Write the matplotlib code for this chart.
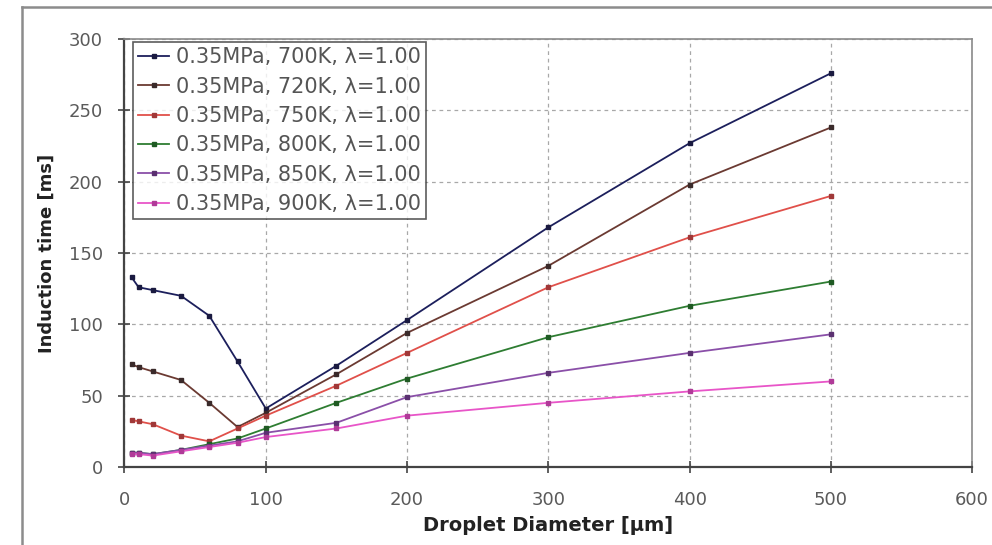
import matplotlib
matplotlib.use("Agg")
import matplotlib.pyplot as plt
from matplotlib.lines import Line2D

plt.rcParams["font.family"] = ["DejaVu Sans"]

# droplet diameter [um]
diameters = [5, 10, 20, 40, 60, 80, 100, 150, 200, 300, 400, 500]

# induction time [ms] per temperature
t_700 = [133, 126, 124, 120, 106, 74, 41, 71, 103, 168, 227, 276]
t_720 = [72, 70, 67, 61, 45, 28, 38, 65, 94, 141, 198, 238]
t_750 = [33, 32, 30, 22, 18, 27, 36, 57, 80, 126, 161, 190]
t_800 = [10, 10, 9, 12, 16, 20, 27, 45, 62, 91, 113, 130]
t_850 = [10, 10, 9, 12, 15, 18, 24, 31, 49, 66, 80, 93]
t_900 = [9, 9, 8, 11, 14, 17, 21, 27, 36, 45, 53, 60]

labels = [
    "0.35MPa, 700K, λ=1.00",
    "0.35MPa, 720K, λ=1.00",
    "0.35MPa, 750K, λ=1.00",
    "0.35MPa, 800K, λ=1.00",
    "0.35MPa, 850K, λ=1.00",
    "0.35MPa, 900K, λ=1.00",
]
series = [t_700, t_720, t_750, t_800, t_850, t_900]
line_colors = ["#1c1f5c", "#6b3a32", "#e0504a", "#2e7d32", "#8a4fa8", "#e855c8"]
marker_colors = ["#1a1a40", "#3a2a2a", "#a03838", "#1f5a23", "#5a3070", "#b03a98"]

fig = plt.figure(figsize=(9.92, 5.45), dpi=100)
ax = fig.add_axes([0.1255, 0.1431, 0.8545, 0.7853])

for y, lab, lc, mc in zip(series, labels, line_colors, marker_colors):
    ax.plot(diameters, y, color=lc, linewidth=1.3, marker="s", markersize=3.5,
            markerfacecolor=mc, markeredgecolor=mc, label=lab)

ax.set_xlim(0, 600)
ax.set_ylim(0, 300)
ax.set_xticks(range(0, 601, 100))
ax.set_yticks(range(0, 301, 50))
ax.grid(True, color="#a8a8a8", linestyle=(0, (3, 3)), linewidth=0.9)
ax.set_axisbelow(True)

for side in ["left", "bottom"]:
    ax.spines[side].set_color("#444444")
    ax.spines[side].set_linewidth(1.6)
for side in ["top", "right"]:
    ax.spines[side].set_color("#8a8a8a")
    ax.spines[side].set_linewidth(1.2)

ax.tick_params(direction="inout", length=9, width=1.2, colors="#444444",
               labelcolor="#5a5a5a", labelsize=13)
ax.tick_params(axis="x", pad=13)
ax.tick_params(axis="y", pad=11)

ax.set_xlabel("Droplet Diameter [µm]", fontsize=14, fontweight="bold",
              color="#222222", labelpad=5)
ax.set_ylabel("Induction time [ms]", fontsize=13, fontweight="bold",
              color="#222222", labelpad=9)

leg = ax.legend(loc="upper left", bbox_to_anchor=(0.01, 0.993), borderaxespad=0,
                fontsize=15, frameon=True, fancybox=False, handlelength=1.5,
                handletextpad=0.3, labelspacing=0.45, borderpad=0.25)
leg.get_frame().set_edgecolor("#333333")
leg.get_frame().set_linewidth(1.2)
for t in leg.get_texts():
    t.set_color("#555555")

# chart area frame (top and left edges visible)
x0, y0 = 22 / 992, 1 - 7 / 545
fig.add_artist(Line2D([x0, 1], [y0, y0], transform=fig.transFigure,
                      color="#8c8c8c", linewidth=1.8))
fig.add_artist(Line2D([x0, x0], [0, y0], transform=fig.transFigure,
                      color="#8c8c8c", linewidth=1.8))

fig.savefig("out.png", dpi=100)
